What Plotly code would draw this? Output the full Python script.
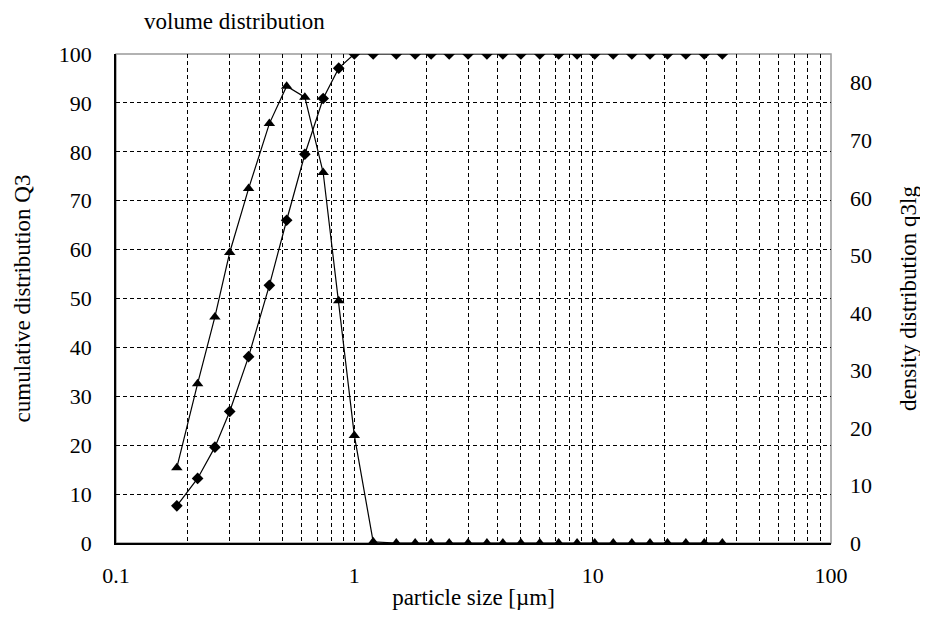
import plotly.graph_objects as go

# particle size classes [µm] (upper band edges)
sizes = [0.18, 0.22, 0.26, 0.30, 0.36, 0.44, 0.52, 0.62, 0.74, 0.86, 1.00,
         1.20, 1.50, 1.80, 2.10, 2.50, 3.00, 3.60, 4.20, 5.00, 6.00, 7.20,
         8.60, 10.20, 12.20, 14.60, 17.40, 20.60, 24.60, 29.40, 35.00]

# cumulative distribution Q3 [%]
q3_cum = [7.6, 13.2, 19.6, 26.9, 38.1, 52.7, 66.0, 79.5, 90.9, 97.1, 100.0,
          100.0, 100.0, 100.0, 100.0, 100.0, 100.0, 100.0, 100.0, 100.0, 100.0,
          100.0, 100.0, 100.0, 100.0, 100.0, 100.0, 100.0, 100.0, 100.0, 100.0]

# density distribution q3lg
q3lg = [13.1, 27.7, 39.3, 50.5, 61.6, 72.9, 79.4, 77.5, 64.4, 42.1, 18.7,
        0.2, 0, 0, 0, 0, 0, 0, 0, 0, 0,
        0, 0, 0, 0, 0, 0, 0, 0, 0, 0]

x_tickvals = [0.1, 1, 10, 100]
x_ticktext = ["0.1", "1", "10", "100"]
left_ticks = list(range(0, 101, 10))
right_ticks = list(range(0, 81, 10))

FONT = "Liberation Serif, Times New Roman, serif"
DASH = "4px,3px"
TICK = 22
TITLE = 23

fig = go.Figure()
fig.add_trace(go.Scatter(
    x=sizes, y=q3_cum, mode="lines+markers", name="Q3",
    line=dict(color="black", width=1.2),
    marker=dict(symbol="diamond", size=9, color="black"),
    yaxis="y", showlegend=False))
fig.add_trace(go.Scatter(
    x=sizes, y=q3lg, mode="lines+markers", name="q3lg",
    line=dict(color="black", width=1.2),
    marker=dict(symbol="triangle-up", size=10, color="black"),
    yaxis="y2", showlegend=False))

fig.update_layout(
    width=920, height=609,
    margin=dict(l=108, r=97, t=46, b=74),
    paper_bgcolor="white", plot_bgcolor="white",
    font=dict(family=FONT, size=TICK, color="black"),
    xaxis=dict(
        type="log", range=[-1, 2],
        tickvals=x_tickvals, ticktext=x_ticktext,
        showgrid=True, gridcolor="black", griddash=DASH, gridwidth=1,
        minor=dict(dtick="D1", showgrid=True, gridcolor="black",
                   griddash=DASH, gridwidth=1, ticks=""),
        showline=True, linecolor="black", linewidth=1.5,
        ticks="", ticklabelstandoff=12,
        title=dict(text="particle size [µm]", standoff=2,
                   font=dict(size=TITLE)),
        zeroline=False,
    ),
    yaxis=dict(
        range=[0, 100], tickvals=left_ticks,
        showgrid=True, gridcolor="black", griddash=DASH, gridwidth=1,
        showline=True, linecolor="black", linewidth=1.5,
        ticks="", ticklabelstandoff=18,
        title=dict(text="cumulative distribution Q3", standoff=22,
                   font=dict(size=TITLE)),
        zeroline=False,
    ),
    yaxis2=dict(
        range=[0, 85], tickvals=right_ticks, overlaying="y", side="right",
        showgrid=False, showline=False, ticks="", ticklabelstandoff=18,
        title=dict(text="density distribution q3lg", standoff=28,
                   font=dict(size=TITLE)),
        zeroline=False,
    ),
    shapes=[dict(type="rect", xref="paper", yref="paper", x0=0, x1=1,
                 y0=0, y1=1, line=dict(color="#999999", width=1.5),
                 layer="below")],
    annotations=[dict(text="volume distribution", xref="paper", yref="paper",
                      x=26 / 715, y=1, yshift=33, xanchor="left",
                      yanchor="middle", showarrow=False,
                      font=dict(size=TITLE))],
)

fig.write_html("out.html")
